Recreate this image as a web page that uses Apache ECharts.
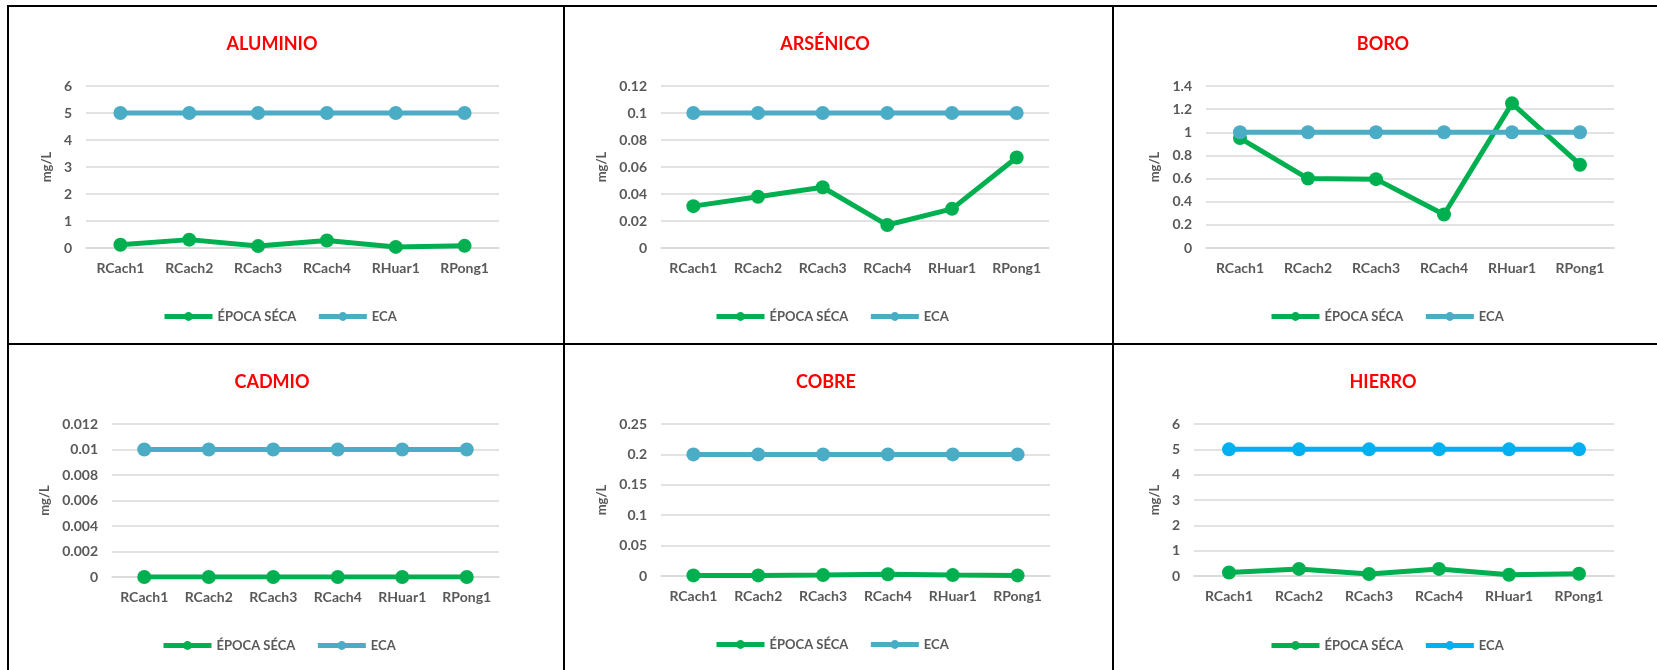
<!DOCTYPE html>
<html>
<head>
<meta charset="utf-8">
<script src="https://cdn.jsdelivr.net/npm/echarts@6/dist/echarts.min.js"></script>
<style>
  body { margin: 0; background: #fff; }
  #page { position: relative; width: 1657px; height: 670px; overflow: hidden; }
  .cell { position: absolute; }
  .ln { position: absolute; background: #000; }
</style>
</head>
<body>
<div id="page">
  <div class="cell" id="c1" style="left:7px;top:6px;width:556px;height:338px"></div>
  <div class="cell" id="c2" style="left:563px;top:6px;width:550px;height:338px"></div>
  <div class="cell" id="c3" style="left:1113px;top:6px;width:544px;height:338px"></div>
  <div class="cell" id="c4" style="left:7px;top:344px;width:556px;height:326px"></div>
  <div class="cell" id="c5" style="left:563px;top:344px;width:550px;height:326px"></div>
  <div class="cell" id="c6" style="left:1113px;top:344px;width:544px;height:326px"></div>
  <!-- marcos -->
  <div class="ln" style="left:7px;top:5px;width:1650px;height:2px"></div>
  <div class="ln" style="left:7px;top:5px;width:2px;height:665px"></div>
  <div class="ln" style="left:7px;top:343px;width:1650px;height:2px"></div>
  <div class="ln" style="left:563px;top:5px;width:2px;height:665px"></div>
  <div class="ln" style="left:1112px;top:5px;width:2px;height:665px"></div>
</div>

<script>
var estaciones = ["RCach1", "RCach2", "RCach3", "RCach4", "RHuar1", "RPong1"];

// ÉPOCA SÉCA (mg/L)
var aluminioSeca = [0.12, 0.31, 0.07, 0.28, 0.04, 0.08];
var arsenicoSeca = [0.031, 0.038, 0.045, 0.017, 0.029, 0.067];
var boroSeca = [0.95, 0.6, 0.595, 0.29, 1.25, 0.72];
var cadmioSeca = [0, 0, 0, 0, 0, 0];
var cobreSeca = [0.001, 0.001, 0.0015, 0.003, 0.0015, 0.001];
var hierroSeca = [0.14, 0.28, 0.08, 0.28, 0.05, 0.09];

// ECA (mg/L)
var aluminioEca = [5, 5, 5, 5, 5, 5];
var arsenicoEca = [0.1, 0.1, 0.1, 0.1, 0.1, 0.1];
var boroEca = [1, 1, 1, 1, 1, 1];
var cadmioEca = [0.01, 0.01, 0.01, 0.01, 0.01, 0.01];
var cobreEca = [0.2, 0.2, 0.2, 0.2, 0.2, 0.2];
var hierroEca = [5, 5, 5, 5, 5, 5];

// ejes Y: max / intervalo
var aluminioEje = [6, 1];
var arsenicoEje = [0.12, 0.02];
var boroEje = [1.4, 0.2];
var cadmioEje = [0.012, 0.002];
var cobreEje = [0.25, 0.05];
var hierroEje = [6, 1];

var FONT = "Lato";
var GRIS = "#595959";
var VERDE = "#00B050";

function dibujar(id, titulo, seca, eca, eje, colorEca, g, tituloX, nameGap, legendLeft, legendTop) {
  var chart = echarts.init(document.getElementById(id));
  var option = {
    animation: false,
    title: {
      text: titulo,
      left: tituloX,
      top: 24,
      textAlign: 'center',
      textStyle: { color: '#FF0000', fontSize: 18, fontWeight: 'bold', fontFamily: FONT }
    },
    grid: { left: g[0], top: g[1], width: g[2], height: g[3] },
    legend: {
      left: legendLeft,
      top: legendTop,
      itemWidth: 48,
      itemHeight: 11,
      itemGap: 20,
      lineStyle: { width: 5 },
      textStyle: { color: GRIS, fontSize: 13, fontWeight: 'bold', fontFamily: FONT },
      data: ['ÉPOCA SÉCA', 'ECA']
    },
    xAxis: {
      type: 'category',
      data: estaciones,
      boundaryGap: true,
      axisTick: { show: false },
      axisLine: { lineStyle: { color: '#D9D9D9', width: 1.5 } },
      axisLabel: { color: GRIS, fontSize: 14, fontWeight: 'bold', fontFamily: FONT, margin: 13 }
    },
    yAxis: {
      type: 'value',
      min: 0,
      max: eje[0],
      interval: eje[1],
      name: 'mg/L',
      nameLocation: 'middle',
      nameRotate: 90,
      nameGap: nameGap,
      nameTextStyle: { color: GRIS, fontSize: 13, fontWeight: 'bold', fontFamily: FONT },
      axisLine: { show: false },
      axisTick: { show: false },
      splitLine: { lineStyle: { color: '#D9D9D9', width: 1.5 } },
      axisLabel: { color: GRIS, fontSize: 14, fontWeight: 'bold', fontFamily: FONT, margin: 14 }
    },
    series: [
      {
        name: 'ÉPOCA SÉCA',
        type: 'line',
        data: seca,
        symbol: 'circle',
        symbolSize: 14,
        lineStyle: { width: 5, color: VERDE },
        itemStyle: { color: VERDE }
      },
      {
        name: 'ECA',
        type: 'line',
        data: eca,
        symbol: 'circle',
        symbolSize: 14,
        lineStyle: { width: 5, color: colorEca },
        itemStyle: { color: colorEca }
      }
    ]
  };
  chart.setOption(option);
}

dibujar('c1', 'ALUMINIO', aluminioSeca, aluminioEca, aluminioEje, '#4BACC6', [79, 80, 413, 162], 260, 30, 150, 299);
dibujar('c2', 'ARSÉNICO', arsenicoSeca, arsenicoEca, arsenicoEje, '#4BACC6', [98, 80, 388, 162], 257, 51, 146, 299);
dibujar('c3', 'BORO', boroSeca, boroEca, boroEje, '#4BACC6', [93, 80, 408, 162], 265, 44, 151, 299);
dibujar('c4', 'CADMIO', cadmioSeca, cadmioEca, cadmioEje, '#4BACC6', [105, 80, 387, 153], 260, 58, 149, 290);
dibujar('c5', 'COBRE', cobreSeca, cobreEca, cobreEje, '#4BACC6', [98, 80, 389, 152], 258, 49, 146, 289);
dibujar('c6', 'HIERRO', hierroSeca, hierroEca, hierroEje, '#00B0F0', [81, 80, 420, 152], 265, 30, 151, 290);
</script>
</body>
</html>
